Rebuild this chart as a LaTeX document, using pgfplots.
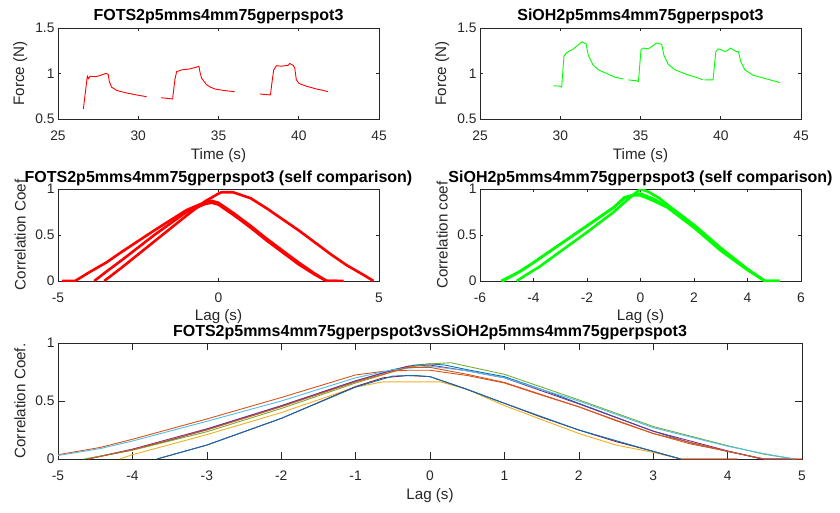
\documentclass[border=0pt]{standalone}
\usepackage{fontspec}
\setmainfont{Liberation Sans}
\usepackage{pgfplots}
\pgfplotsset{compat=1.18}
\definecolor{axgray}{rgb}{0.15,0.15,0.15}
\definecolor{mblue}{rgb}{0,0.447,0.741}
\definecolor{morange}{rgb}{0.85,0.325,0.098}
\definecolor{myellow}{rgb}{0.929,0.694,0.125}
\definecolor{mpurple}{rgb}{0.494,0.184,0.556}
\definecolor{mgreen}{rgb}{0.466,0.674,0.188}
\definecolor{mcyan}{rgb}{0.301,0.745,0.933}
\definecolor{mdarkred}{rgb}{0.635,0.078,0.184}
\pgfplotsset{
  mstyle/.style={
    scale only axis, anchor=south west,
    axis line style={axgray, line width=0.6pt},
    tick style={axgray, line width=0.6pt},
    tick align=inside,
    ticklabel style={font=\fontsize{13.8}{16}\selectfont, text=axgray},
    /pgf/number format/assume math mode=true,
    label style={font=\fontsize{15.2}{18}\selectfont, text=axgray},
    title style={font=\fontsize{16}{19}\selectfont\bfseries, at={(axis description cs:0.5,1)}, anchor=base, yshift=1pt},
    xticklabel style={yshift=-8.5pt},
  },
  thin/.style={line width=0.9pt, line join=round},
  thick/.style={line width=2.6pt, line join=round},
}
\begin{document}
\begin{tikzpicture}
\path[use as bounding box] (0pt,0pt) rectangle (840pt,512pt);
% ---------- top left
\begin{axis}[mstyle, at={(58pt,393pt)}, width=321pt, height=91pt,
  xmin=25, xmax=45, ymin=0.5, ymax=1.5, xtick={25,30,35,40,45}, ytick={0.5,1,1.5},
  major tick length=3.2pt,
  title={FOTS2p5mms4mm75gperpspot3}, xlabel={Time (s)}, ylabel={Force (N)},
  xlabel style={at={(axis description cs:0.5,-0.40)}, anchor=center},
  ylabel style={at={(axis description cs:-0.118,0.5)}, anchor=center}]
\addplot[thin, red] coordinates {(26.58,0.61)(26.83,0.976)(26.89,0.94)(27.0,0.97)(27.3,0.965)(27.6,0.976)(27.8,0.99)(27.99,1.0)(28.13,0.99)(28.2,0.91)(28.34,0.85)(28.65,0.815)(28.95,0.80)(29.27,0.786)(29.6,0.775)(29.9,0.764)(30.2,0.755)(30.52,0.745)};
\addplot[thin, red] coordinates {(31.43,0.734)(32.14,0.72)(32.28,0.93)(32.39,1.02)(32.7,1.04)(33.2,1.05)(33.63,1.07)(33.78,1.08)(33.84,1.02)(33.94,0.95)(34.25,0.877)(34.5,0.85)(34.77,0.83)(35.1,0.82)(35.5,0.81)(36.0,0.80)};
\addplot[thin, red] coordinates {(37.57,0.775)(38.24,0.764)(38.3,0.86)(38.44,1.04)(38.61,1.086)(38.92,1.08)(39.1,1.085)(39.34,1.09)(39.44,1.11)(39.65,1.09)(39.75,1.06)(39.85,0.93)(40.02,0.89)(40.48,0.86)(41.1,0.83)(41.5,0.815)(41.83,0.80)};
\end{axis}
% ---------- top right
\begin{axis}[mstyle, at={(480pt,393pt)}, width=321pt, height=91pt,
  xmin=25, xmax=45, ymin=0.5, ymax=1.5, xtick={25,30,35,40,45}, ytick={0.5,1,1.5},
  major tick length=3.2pt,
  title={SiOH2p5mms4mm75gperpspot3}, xlabel={Time (s)}, ylabel={Force (N)},
  xlabel style={at={(axis description cs:0.5,-0.40)}, anchor=center},
  ylabel style={at={(axis description cs:-0.118,0.5)}, anchor=center}]
\addplot[thin, green] coordinates {(29.57,0.866)(29.98,0.86)(30.09,0.85)(30.23,1.19)(30.4,1.23)(30.82,1.27)(31.23,1.33)(31.34,1.35)(31.48,1.335)(31.6,1.33)(31.75,1.2)(32.02,1.1)(32.37,1.04)(32.89,1.0)(33.41,0.96)(33.93,0.94)};
\addplot[thin, green] coordinates {(34.24,0.93)(34.76,0.92)(34.87,0.91)(35.03,1.26)(35.18,1.28)(35.49,1.27)(35.8,1.31)(36.0,1.335)(36.2,1.325)(36.32,1.32)(36.46,1.2)(36.73,1.1)(37.15,1.04)(37.88,0.99)(38.6,0.95)(38.87,0.93)};
\addplot[thin, green] coordinates {(39.0,0.93)(39.52,0.93)(39.69,1.24)(39.84,1.27)(40.05,1.26)(40.26,1.24)(40.47,1.26)(40.6,1.28)(40.78,1.26)(40.99,1.24)(41.1,1.24)(41.24,1.135)(41.5,1.04)(42.03,0.98)(42.86,0.94)(43.69,0.90)};
\end{axis}
% ---------- middle left
\begin{axis}[mstyle, at={(58pt,231pt)}, width=321pt, height=92pt,
  xmin=-5, xmax=5, ymin=0, ymax=1, xtick={-5,0,5}, ytick={0,0.5,1},
  major tick length=3.2pt,
  title={FOTS2p5mms4mm75gperpspot3 (self comparison)}, xlabel={Lag (s)}, ylabel={Correlation Coef},
  xlabel style={at={(axis description cs:0.5,-0.39)}, anchor=center},
  ylabel style={at={(axis description cs:-0.118,0.5)}, anchor=center}]
\addplot[thick, red] coordinates {(-4.87,0)(-4.47,0)(-4.0,0.1)(-3.5,0.2)(-3,0.32)(-2,0.55)(-1,0.77)(-0.4,0.86)(-0.2,0.87)(0,0.85)(0.5,0.73)(1,0.6)(1.5,0.46)(2,0.33)(2.5,0.2)(3,0.08)(3.38,0)(3.9,0)};
\addplot[thick, red] coordinates {(-3.87,0)(-3.5,0.1)(-3,0.23)(-2,0.5)(-1,0.75)(-0.4,0.84)(-0.2,0.85)(0,0.83)(0.5,0.71)(1,0.58)(1.5,0.44)(2,0.31)(2.5,0.18)(3,0.07)(3.36,0)(3.7,0)};
\addplot[thick, red] coordinates {(-3.56,0)(-3,0.15)(-2,0.43)(-1,0.71)(-0.4,0.87)(0,0.95)(0.1,0.965)(0.45,0.965)(1,0.9)(1.5,0.79)(2,0.67)(2.5,0.55)(3,0.42)(3.5,0.29)(4,0.17)(4.5,0.07)(4.83,0)};
\end{axis}
% ---------- middle right
\begin{axis}[mstyle, at={(480pt,231pt)}, width=321pt, height=92pt,
  xmin=-6, xmax=6, ymin=0, ymax=1, xtick={-6,-4,-2,0,2,4,6}, ytick={0,0.5,1},
  major tick length=3.2pt,
  title={SiOH2p5mms4mm75gperpspot3 (self comparison)}, xlabel={Lag (s)}, ylabel={Correlation coef},
  xlabel style={at={(axis description cs:0.5,-0.39)}, anchor=center},
  ylabel style={at={(axis description cs:-0.118,0.5)}, anchor=center}]
\addplot[thick, green] coordinates {(-5.21,0)(-4.8,0.06)(-4.4,0.12)(-4,0.2)(-3,0.4)(-2,0.6)(-1,0.8)(-0.6,0.9)(-0.3,0.93)(0,0.93)(0.5,0.87)(1,0.8)(2,0.58)(3,0.33)(4,0.12)(4.65,0)(5.21,0)};
\addplot[thick, green] coordinates {(-4.63,0)(-4.2,0.08)(-3.8,0.15)(-3,0.32)(-2,0.53)(-1,0.75)(-0.5,0.88)(0,1.0)(0.3,0.97)(0.7,0.9)(1,0.83)(2,0.61)(3,0.36)(4,0.13)(4.65,0)(5.21,0)};
\addplot[thick, green] coordinates {(-5.15,0)(-4.7,0.07)(-4,0.2)(-3,0.4)(-2,0.6)(-1,0.8)(-0.6,0.91)(-0.2,0.94)(0,0.95)(0.5,0.89)(1,0.81)(2,0.59)(3,0.34)(4,0.125)(4.65,0)};
\end{axis}
% ---------- bottom
\begin{axis}[mstyle, at={(58pt,53pt)}, width=744pt, height=116pt,
  xmin=-5, xmax=5, ymin=0, ymax=1, xtick={-5,-4,...,5}, ytick={0,0.5,1},
  major tick length=7pt,
  title={FOTS2p5mms4mm75gperpspot3vsSiOH2p5mms4mm75gperpspot3}, xlabel={Lag (s)}, ylabel={Correlation Coef.},
  xlabel style={at={(axis description cs:0.5,-0.315)}, anchor=center},
  ylabel style={at={(axis description cs:-0.051,0.5)}, anchor=center}]
\addplot[thin, mblue] coordinates {(-4.6,0)(-4.3,0.04)(-4,0.08)(-3.5,0.16)(-3,0.255)(-2,0.455)(-1,0.67)(-0.5,0.77)(-0.2,0.81)(0,0.82)(0.2,0.81)(0.5,0.77)(1,0.71)(1.5,0.6)(2,0.48)(2.5,0.36)(3,0.24)(3.5,0.14)(4,0.066)(4.49,0)(4.9,0)};
\addplot[thin, morange] coordinates {(-5,0.037)(-4.43,0.10)(-4,0.17)(-3,0.345)(-2,0.53)(-1,0.725)(-0.63,0.755)(-0.3,0.765)(0,0.765)(0.5,0.72)(1,0.655)(1.5,0.55)(2,0.45)(2.5,0.33)(3,0.22)(3.5,0.13)(4,0.066)(4.49,0)(5,0)};
\addplot[thin, myellow] coordinates {(-4.17,0)(-4,0.037)(-3,0.21)(-2,0.40)(-1,0.62)(-0.63,0.665)(0.14,0.665)(0.5,0.6)(1,0.46)(1.5,0.34)(2,0.22)(2.5,0.12)(3,0.057)(3.37,0)(4.13,0)};
\addplot[thin, mpurple] coordinates {(-4.6,0)(-4,0.085)(-3,0.26)(-2,0.46)(-1,0.675)(-0.3,0.8)(0,0.81)(0.5,0.76)(1,0.70)(2,0.475)(3,0.24)(4,0.07)(4.45,0)(4.9,0)};
\addplot[thin, mgreen] coordinates {(-4.65,0)(-4,0.075)(-3,0.235)(-2,0.435)(-1,0.655)(-0.3,0.79)(0,0.82)(0.28,0.83)(1,0.73)(2,0.51)(3,0.28)(4,0.115)(4.5,0.04)(4.9,0)};
\addplot[thin, mcyan] coordinates {(-5,0.03)(-4.43,0.09)(-4,0.155)(-3,0.325)(-2,0.50)(-1,0.70)(-0.5,0.77)(0,0.80)(0.5,0.76)(1,0.70)(2,0.50)(3,0.27)(4,0.11)(4.5,0.045)(4.9,0)};
\addplot[thin, mdarkred] coordinates {(-3.67,0)(-3,0.12)(-2,0.35)(-1,0.625)(-0.63,0.7)(-0.3,0.72)(0,0.71)(0.5,0.6)(1,0.48)(1.5,0.36)(2,0.25)(2.5,0.15)(3,0.066)(3.37,0)(4.13,0)};
\addplot[thin, mblue] coordinates {(-3.67,0)(-3,0.12)(-2,0.35)(-1,0.62)(-0.5,0.715)(-0.2,0.72)(0,0.71)(0.5,0.6)(1,0.48)(2,0.25)(3,0.066)(3.37,0)};
\addplot[thin, morange] coordinates {(-4.6,0)(-4,0.08)(-3,0.25)(-2,0.45)(-1,0.665)(-0.3,0.79)(0,0.79)(0.5,0.73)(1,0.66)(2,0.45)(3,0.22)(4,0.066)(4.49,0)(5,0)};
\end{axis}
\end{tikzpicture}
\end{document}
